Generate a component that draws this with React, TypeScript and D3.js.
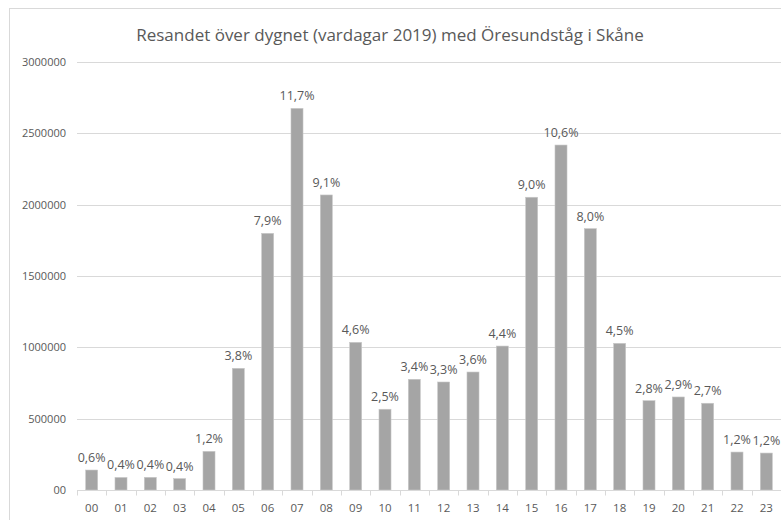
import { useEffect, useRef } from "react";
import * as d3 from "d3";

// timmar på dygnet
const hours = ["00","01","02","03","04","05","06","07","08","09","10","11","12","13","14","15","16","17","18","19","20","21","22","23"];
// antal resande per timme (avläst)
const travellers = [140000, 88000, 89000, 80000, 271000, 853000, 1799000, 2675000, 2068000, 1035000, 566000, 776000, 757000, 827000, 1009000, 2052000, 2418000, 1832000, 1028000, 626000, 652000, 608000, 266000, 259000];
// andel av dygnets resande
const shares = ["0,6%","0,4%","0,4%","0,4%","1,2%","3,8%","7,9%","11,7%","9,1%","4,6%","2,5%","3,4%","3,3%","3,6%","4,4%","9,0%","10,6%","8,0%","4,5%","2,8%","2,9%","2,7%","1,2%","1,2%"];
const yTicks = [0, 500000, 1000000, 1500000, 2000000, 2500000, 3000000];

const title = "Resandet över dygnet (vardagar 2019) med Öresundståg i Skåne";

const App = () => {
    const ref = useRef<SVGSVGElement>(null);

    useEffect(() => {
        const width = 781;
        const height = 520;
        const marginLeft = 77;
        const marginRight = 0;
        const marginTop = 62;
        const marginBottom = 30;
        const font = "'Open Sans', 'Liberation Sans', sans-serif";
        const textColor = "#595959";

        const svg = d3.select(ref.current);
        svg.selectAll("*").remove();

        const x = d3.scaleBand().domain(hours).range([marginLeft, width - marginRight]).paddingInner(0.59).paddingOuter(0.295);
        const y = d3.scaleLinear().domain([0, 3000000]).range([height - marginBottom, marginTop]);

        // ram
        svg.append("rect")
            .attr("x", 9.5).attr("y", 8.5)
            .attr("width", width + 10).attr("height", height + 10)
            .attr("fill", "#fff").attr("stroke", "#D9D9D9");

        svg.append("text")
            .attr("x", 390).attr("y", 41)
            .attr("text-anchor", "middle")
            .attr("font-family", font).attr("font-size", 17)
            .attr("fill", textColor)
            .text(title);

        // y-axel med rutnät
        svg.append("g")
            .selectAll("line")
            .data(yTicks.slice(1))
            .join("line")
            .attr("x1", marginLeft).attr("x2", width)
            .attr("y1", d => Math.round(y(d)) + 0.5).attr("y2", d => Math.round(y(d)) + 0.5)
            .attr("stroke", "#D9D9D9");

        svg.append("g")
            .selectAll("text")
            .data(yTicks)
            .join("text")
            .attr("x", 66).attr("y", d => y(d) + 4)
            .attr("text-anchor", "end")
            .attr("font-family", font).attr("font-size", 11)
            .attr("fill", textColor)
            .text(d => d === 0 ? "00" : String(d));

        // staplar
        svg.append("g")
            .selectAll("rect")
            .data(travellers)
            .join("rect")
            .attr("x", (d, i) => x(hours[i])!)
            .attr("y", d => y(d))
            .attr("width", x.bandwidth())
            .attr("height", d => y(0) - y(d))
            .attr("fill", "#A5A5A5")
            .attr("stroke", "#C8C8C8")
            .attr("stroke-width", 0.6);

        svg.append("g")
            .selectAll("text")
            .data(travellers)
            .join("text")
            .attr("x", (d, i) => x(hours[i])! + x.bandwidth() / 2)
            .attr("y", d => y(d) - 8)
            .attr("text-anchor", "middle")
            .attr("font-family", font).attr("font-size", 12.5)
            .attr("fill", textColor)
            .text((d, i) => shares[i]);

        // x-axel
        const xAxis = svg.append("g").attr("transform", `translate(0,${Math.round(y(0)) + 0.5})`);
        xAxis.append("line").attr("x1", marginLeft).attr("x2", width).attr("stroke", "#D9D9D9");
        xAxis.selectAll(".tick")
            .data(hours)
            .join("line")
            .attr("x1", d => Math.round(x(d)! - x.step() * 0.295) + 0.5)
            .attr("x2", d => Math.round(x(d)! - x.step() * 0.295) + 0.5)
            .attr("y1", 0).attr("y2", 5)
            .attr("stroke", "#D9D9D9");
        xAxis.selectAll("text")
            .data(hours)
            .join("text")
            .attr("x", d => x(d)! + x.bandwidth() / 2)
            .attr("y", 21)
            .attr("text-anchor", "middle")
            .attr("font-family", font).attr("font-size", 11.5)
            .attr("fill", textColor)
            .text(d => d);
    }, []);

    return (
        <svg ref={ref} width={781} height={520} style={{ position: "absolute", left: 0, top: 0 }} />
    );
};

export default App;
